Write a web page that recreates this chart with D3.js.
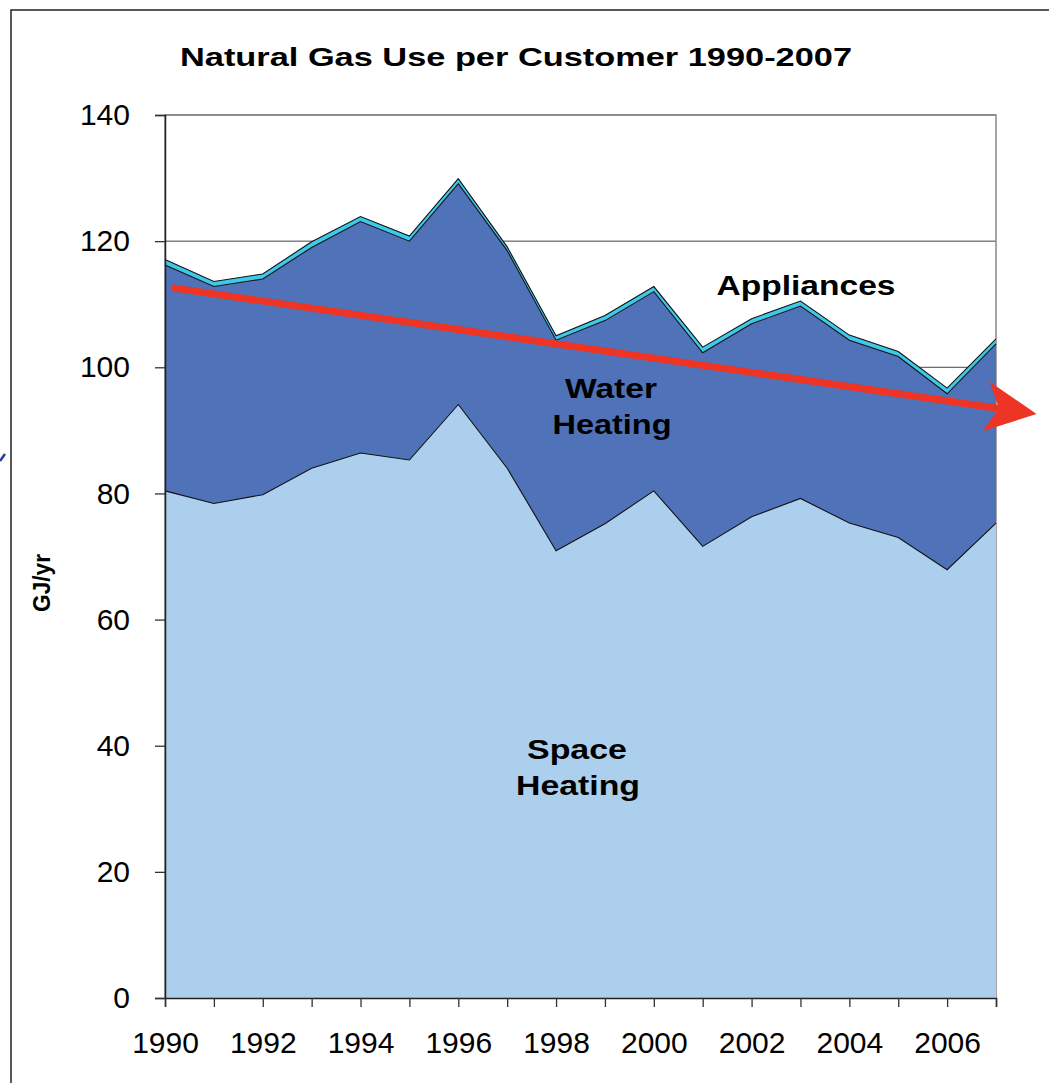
<!DOCTYPE html>
<html>
<head>
<meta charset="utf-8">
<script src="https://cdn.jsdelivr.net/npm/d3@7"></script>
<style>
  body { margin: 0; background: #fff; }
  svg text { font-family: "Liberation Sans", Arial, sans-serif; }
</style>
</head>
<body>
<svg id="chart" width="1049" height="1083"></svg>
<script>
// ---- data (GJ/yr per customer) ----
const years = [1990, 1991, 1992, 1993, 1994, 1995, 1996, 1997, 1998, 1999,
               2000, 2001, 2002, 2003, 2004, 2005, 2006, 2007];
const spaceHeating = [80.4, 78.4, 79.8, 84.0, 86.4, 85.3, 94.1, 84.0, 70.9, 75.2,
                      80.4, 71.6, 76.3, 79.2, 75.3, 73.0, 67.9, 75.3];
const waterHeating = [35.8, 34.4, 34.2, 35.0, 36.7, 34.7, 35.0, 34.5, 33.4, 32.2,
                      31.6, 30.7, 30.6, 30.5, 29.0, 28.7, 27.9, 28.4];
const appliances   = [0.9, 0.8, 0.8, 0.9, 0.8, 0.8, 0.8, 0.6, 0.7, 0.8,
                      0.8, 0.9, 0.8, 0.8, 0.8, 0.8, 0.9, 0.8];
const yTicks = [0, 20, 40, 60, 80, 100, 120, 140];
// trend arrow: start and tip, in [year, GJ/yr]
const trendStart = [1990.14, 112.6];
const trendTip = [2007.83, 92.6];

const svg = d3.select('#chart');
const margin = {top: 115, right: 53, bottom: 85, left: 165};
const width = +svg.attr('width');
const height = +svg.attr('height');

const x = d3.scaleLinear()
    .domain([1990, 2007])
    .range([margin.left, width - margin.right]);
const y = d3.scaleLinear()
    .domain([0, 140])
    .range([height - margin.bottom, margin.top]);

// outer frame
svg.append('rect')
    .attr('x', 11).attr('y', 10)
    .attr('width', 1100).attr('height', 1200)
    .attr('fill', 'none')
    .attr('stroke', '#222')
    .attr('stroke-width', 1.5);

// stray mark at left edge
svg.append('line')
    .attr('x1', 0).attr('y1', 461).attr('x2', 5).attr('y2', 454)
    .attr('stroke', '#2b3f9e').attr('stroke-width', 2.5);

// gridlines
svg.append('g')
    .selectAll('line')
    .data(yTicks.filter(d => d > 0))
    .enter()
    .append('line')
    .attr('x1', margin.left).attr('x2', width - margin.right)
    .attr('y1', d => y(d)).attr('y2', d => y(d))
    .attr('stroke', '#444')
    .attr('stroke-width', 1);

// plot border (top / right)
svg.append('rect')
    .attr('x', margin.left).attr('y', margin.top)
    .attr('width', x(2007) - x(1990))
    .attr('height', y(0) - y(140))
    .attr('fill', 'none')
    .attr('stroke', '#888')
    .attr('stroke-width', 1.5);

// stacked areas
const table = years.map((yr, i) => ({
    year: yr, space: spaceHeating[i], water: waterHeating[i], appl: appliances[i]
}));
const keys = ['space', 'water', 'appl'];
const colors = {space: '#abcfec', water: '#5072b8', appl: '#3ec8ea'};
const series = d3.stack().keys(keys)(table);

const area = d3.area()
    .x(d => x(d.data.year))
    .y0(d => y(d[0]))
    .y1(d => y(d[1]));
const topLine = d3.line()
    .x(d => x(d.data.year))
    .y(d => y(d[1]));

svg.append('g')
    .selectAll('path')
    .data(series)
    .enter()
    .append('path')
    .attr('d', area)
    .attr('fill', d => colors[d.key]);

svg.append('g')
    .selectAll('path')
    .data(series)
    .enter()
    .append('path')
    .attr('d', topLine)
    .attr('fill', 'none')
    .attr('stroke', '#111')
    .attr('stroke-width', 1.1);

// axes
const yAxis = svg.append('g')
    .attr('transform', `translate(${margin.left},0)`)
    .call(d3.axisLeft(y).tickValues(yTicks).tickSize(10).tickPadding(25));
const xAxis = svg.append('g')
    .attr('transform', `translate(0,${y(0)})`)
    .call(d3.axisBottom(x).tickValues(years).tickSize(9).tickPadding(25)
        .tickFormat(d => d % 2 === 0 ? d : ''));

[yAxis, xAxis].forEach(g => {
    g.selectAll('text')
        .style('font-family', '"Liberation Sans", Arial, sans-serif')
        .style('font-size', '30px')
        .attr('fill', '#000');
    g.selectAll('line').attr('stroke', '#333').attr('stroke-width', 1.3);
    g.select('.domain').attr('stroke', '#222').attr('stroke-width', 1.5);
});

// trend arrow
const sx = x(trendStart[0]), sy = y(trendStart[1]);
const tx = x(trendTip[0]), ty = y(trendTip[1]);
const len = Math.hypot(tx - sx, ty - sy);
const ux = (tx - sx) / len, uy = (ty - sy) / len;
const nx = -uy, ny = ux;
const headLen = 51, headHalf = 25, notch = 38;
const bx = tx - headLen * ux, by = ty - headLen * uy;
const mx = tx - notch * ux, my = ty - notch * uy;

svg.append('line')
    .attr('x1', sx).attr('y1', sy)
    .attr('x2', mx).attr('y2', my)
    .attr('stroke', '#ee3424')
    .attr('stroke-width', 7);
svg.append('path')
    .attr('d', `M${tx},${ty} L${bx + headHalf * nx},${by + headHalf * ny} L${mx},${my} L${bx - headHalf * nx},${by - headHalf * ny} Z`)
    .attr('fill', '#ee3424');

// title
svg.append('text')
    .attr('x', 516).attr('y', 66)
    .attr('text-anchor', 'middle')
    .attr('textLength', 672).attr('lengthAdjust', 'spacingAndGlyphs')
    .style('font-size', '26px').style('font-weight', 'bold')
    .text('Natural Gas Use per Customer 1990-2007');

// y label
svg.append('text')
    .attr('transform', 'translate(50,583) rotate(-90)')
    .attr('text-anchor', 'middle')
    .attr('textLength', 58).attr('lengthAdjust', 'spacingAndGlyphs')
    .style('font-size', '24px').style('font-weight', 'bold')
    .text('GJ/yr');

// in-chart labels
const labels = [
    {t: 'Appliances', cx: 806, by: 295, w: 179},
    {t: 'Water', cx: 611, by: 398, w: 92},
    {t: 'Heating', cx: 612, by: 434, w: 119},
    {t: 'Space', cx: 577, by: 759, w: 100},
    {t: 'Heating', cx: 578, by: 795, w: 124}
];
svg.append('g')
    .selectAll('text')
    .data(labels)
    .enter()
    .append('text')
    .attr('x', d => d.cx).attr('y', d => d.by)
    .attr('text-anchor', 'middle')
    .attr('textLength', d => d.w).attr('lengthAdjust', 'spacingAndGlyphs')
    .style('font-size', '28px').style('font-weight', 'bold')
    .text(d => d.t);
</script>
</body>
</html>
